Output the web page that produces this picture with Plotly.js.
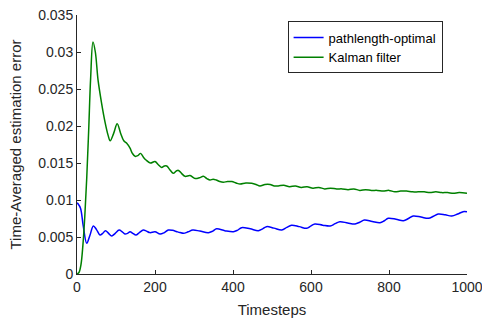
<!DOCTYPE html>
<html>
<head>
<meta charset="utf-8">
<script src="https://cdn.plot.ly/plotly-3.0.1.min.js"></script>
<style>html,body{margin:0;padding:0;background:#fff;}#chart{width:482px;height:318px;}</style>
</head>
<body>
<div id="chart"></div>
<script>
// pathlength-optimal (blue)
const tBlue = [0, 3, 9, 16, 25, 33, 42, 50, 59, 66, 73, 81, 89, 98, 108, 116, 123, 130, 136, 143, 151, 160, 170, 178, 187, 200, 213, 224, 234, 245, 256, 264, 273, 285, 297, 315, 337, 348, 358, 379, 401, 411, 422, 444, 465, 476, 486, 505, 525, 538, 550, 570, 589, 600, 610, 630, 649, 662, 674, 694, 713, 725, 737, 757, 777, 788, 798, 818, 837, 850, 862, 882, 901, 914, 926, 944, 961, 976, 990, 1000];
const vBlue = [0.0096, 0.00946, 0.0089, 0.0065, 0.00415, 0.0052, 0.0065, 0.0060, 0.00527, 0.0055, 0.00585, 0.0055, 0.00514, 0.0055, 0.00594, 0.0057, 0.0054, 0.0055, 0.00572, 0.0055, 0.00527, 0.0056, 0.00594, 0.0058, 0.00559, 0.0057, 0.0054, 0.0056, 0.00594, 0.0059, 0.00572, 0.0056, 0.0055, 0.0057, 0.00594, 0.0058, 0.00559, 0.0058, 0.0061, 0.00586, 0.00572, 0.0059, 0.00626, 0.0061, 0.00586, 0.0061, 0.0064, 0.0062, 0.00595, 0.0063, 0.0066, 0.0064, 0.00617, 0.0065, 0.00676, 0.0066, 0.00649, 0.0068, 0.00707, 0.0069, 0.00676, 0.0070, 0.0073, 0.0071, 0.00694, 0.0072, 0.00752, 0.0074, 0.0072, 0.0075, 0.00784, 0.0077, 0.00752, 0.0078, 0.0081, 0.0080, 0.00784, 0.0081, 0.00842, 0.0084];

// Kalman filter (green)
const tGreen = [0, 5, 10, 15, 20, 25, 30, 35, 41, 47, 54, 63, 72, 80, 85, 94, 103, 112, 120, 127, 136, 142, 149, 156, 163, 170, 177, 188, 200, 208, 217, 224, 230, 238, 247, 254, 260, 268, 277, 290, 303, 314, 324, 333, 341, 349, 357, 366, 375, 386, 397, 408, 418, 433, 448, 459, 469, 482, 495, 506, 516, 530, 545, 560, 575, 590, 605, 620, 635, 650, 666, 680, 695, 710, 725, 740, 755, 770, 785, 800, 815, 830, 845, 860, 875, 890, 905, 920, 935, 950, 965, 980, 1000];
const vGreen = [0, 0.0002, 0.0012, 0.0038, 0.0078, 0.0130, 0.0195, 0.0265, 0.03135, 0.0300, 0.0262, 0.0231, 0.0205, 0.0187, 0.0180, 0.0190, 0.0203, 0.0190, 0.0180, 0.0177, 0.0170, 0.0163, 0.0159, 0.0160, 0.0163, 0.0158, 0.0154, 0.0150, 0.0152, 0.0148, 0.0144, 0.0146, 0.0146, 0.0141, 0.0136, 0.0139, 0.0140, 0.0136, 0.0132, 0.0133, 0.0129, 0.0130, 0.0132, 0.0129, 0.0127, 0.0128, 0.0127, 0.0125, 0.0124, 0.0125, 0.0125, 0.0123, 0.01216, 0.0123, 0.01225, 0.0121, 0.0119, 0.0121, 0.0121, 0.0119, 0.0119, 0.0120, 0.0118, 0.0119, 0.0117, 0.0118, 0.0116, 0.0117, 0.0115, 0.0116, 0.0115, 0.0115, 0.0114, 0.0115, 0.0113, 0.0114, 0.0113, 0.0113, 0.0112, 0.0113, 0.0111, 0.0112, 0.0112, 0.0111, 0.0111, 0.0111, 0.0110, 0.0111, 0.0110, 0.0110, 0.0109, 0.0110, 0.0109];

const xTicks = [0, 200, 400, 600, 800, 1000];
const yTicks = [0, 0.005, 0.01, 0.015, 0.02, 0.025, 0.03, 0.035];
const yTickText = ["0", "0.005", "0.01", "0.015", "0.02", "0.025", "0.03", "0.035"];

const axisColor = '#262626';
const fam = 'Liberation Sans, Arial, sans-serif';
const font = {family: fam, size: 14, color: axisColor};

const data = [
  {x: tBlue, y: vBlue, type: 'scatter', mode: 'lines', name: 'pathlength-optimal',
   line: {color: '#0000ff', width: 1.5, shape: 'spline', smoothing: 1}},
  {x: tGreen, y: vGreen, type: 'scatter', mode: 'lines', name: 'Kalman filter',
   line: {color: '#008000', width: 1.5, shape: 'spline', smoothing: 1}}
];

const layout = {
  width: 482, height: 318,
  margin: {l: 77, r: 15, t: 15, b: 44},
  paper_bgcolor: '#fff', plot_bgcolor: '#fff',
  font: font,
  showlegend: true,
  legend: {x: 0.54, xanchor: 'left', y: 0.975, yanchor: 'top',
    bgcolor: '#fff', bordercolor: '#262626', borderwidth: 1,
    font: {family: fam, size: 13, color: '#000'},
    tracegroupgap: 0, itemwidth: 30},
  xaxis: {
    range: [0, 1000], tickvals: xTicks, ticktext: xTicks.map(String),
    ticks: 'inside', ticklen: 4, tickcolor: axisColor, tickwidth: 1,
    showline: true, linecolor: axisColor, linewidth: 1, mirror: false,
    showgrid: false, zeroline: false, ticklabeloverflow: 'allow',
    tickfont: font,
    title: {text: 'Timesteps', font: {family: fam, size: 15, color: axisColor}, standoff: 11}
  },
  yaxis: {
    range: [0, 0.035], tickvals: yTicks, ticktext: yTickText,
    ticks: 'inside', ticklen: 4, tickcolor: axisColor, tickwidth: 1,
    showline: true, linecolor: axisColor, linewidth: 1, mirror: false,
    showgrid: false, zeroline: false, ticklabeloverflow: 'allow',
    tickfont: font,
    title: {text: 'Time-Averaged estimation error', font: {family: fam, size: 15, color: axisColor}, standoff: 12}
  }
};

Plotly.newPlot('chart', data, layout, {displayModeBar: false, staticPlot: true});
</script>
</body>
</html>
